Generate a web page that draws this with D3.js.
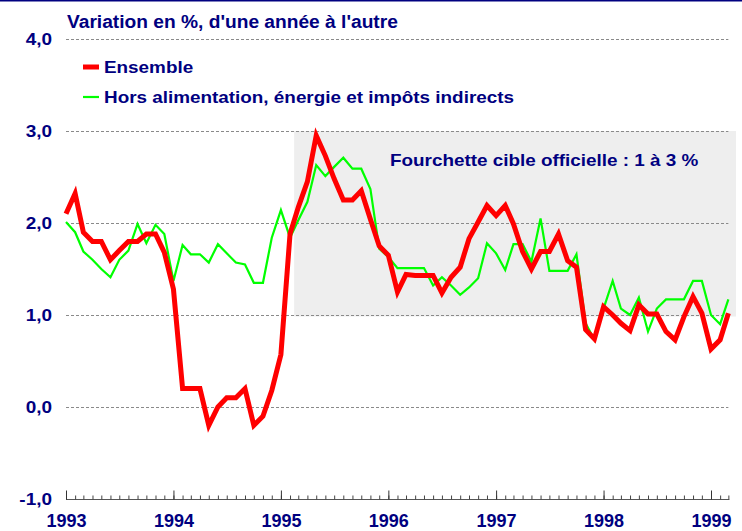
<!DOCTYPE html>
<html>
<head>
<meta charset="utf-8">
<script src="https://cdn.jsdelivr.net/npm/d3@7"></script>
<style>
  html, body { margin: 0; padding: 0; background: #ffffff; }
  svg { display: block; font-family: "Liberation Sans", Arial, sans-serif; }
</style>
</head>
<body>
<svg id="chart" width="742" height="531"></svg>
<script>
// ---- Data (monthly, Jan 1993 – Mar 1999) ----
const startMonth = "1993-01";
const endMonth = "1999-03";
const ensemble = [
  2.10, 2.32, 1.90, 1.80, 1.80, 1.60, 1.70, 1.80, 1.80, 1.88, 1.88, 1.68,
  1.28, 0.20, 0.20, 0.20, -0.20, 0.00, 0.10, 0.10, 0.20, -0.20, -0.10, 0.18,
  0.57, 1.88, 2.17, 2.45, 2.95, 2.73, 2.48, 2.25, 2.25, 2.35, 2.04, 1.75,
  1.65, 1.25, 1.44, 1.43, 1.43, 1.43, 1.24, 1.41, 1.52, 1.83, 2.01, 2.19,
  2.08, 2.19, 1.99, 1.69, 1.50, 1.69, 1.69, 1.88, 1.59, 1.52, 0.84, 0.74,
  1.09, 1.00, 0.91, 0.83, 1.11, 1.01, 1.01, 0.82, 0.73, 0.98, 1.20, 1.02,
  0.63, 0.73, 1.02
];
const horsAlim = [
  2.01, 1.90, 1.69, 1.60, 1.50, 1.41, 1.60, 1.70, 1.99, 1.78, 1.98, 1.88,
  1.37, 1.76, 1.66, 1.66, 1.57, 1.77, 1.67, 1.57, 1.55, 1.35, 1.35, 1.84,
  2.14, 1.84, 2.03, 2.23, 2.63, 2.51, 2.61, 2.71, 2.59, 2.59, 2.37, 1.72,
  1.63, 1.51, 1.51, 1.51, 1.51, 1.32, 1.41, 1.32, 1.22, 1.30, 1.40, 1.78,
  1.67, 1.49, 1.77, 1.77, 1.58, 2.05, 1.48, 1.48, 1.48, 1.66, 0.91, 0.73,
  1.07, 1.37, 1.07, 1.00, 1.19, 0.82, 1.07, 1.17, 1.17, 1.17, 1.37, 1.37,
  1.00, 0.90, 1.17
];
const yTicks = [-1, 0, 1, 2, 3, 4];
const gridValues = [0, 1, 2, 3, 4];
const yearLabels = ["1993", "1994", "1995", "1996", "1997", "1998", "1999"];
const targetBand = [1, 3];
const seriesNames = ["Ensemble", "Hors alimentation, énergie et impôts indirects"];
const titleText = "Variation en %, d'une année à l'autre";
const bandText = "Fourchette cible officielle : 1 à 3 %";

// ---- Setup ----
const NAVY = "#000080";
const svg = d3.select("#chart");
const parseM = d3.timeParse("%Y-%m");
const months = d3.timeMonth.range(parseM(startMonth), d3.timeMonth.offset(parseM(endMonth), 1));

const x = d3.scaleTime()
  .domain([new Date(1993, 0, 1), new Date(1999, 0, 1)])
  .range([66, 711]);
const y = d3.scaleLinear().domain([-1, 4]).range([499, 39]);

const plotRight = x(months[months.length - 1]);

// stretch helper: widen glyphs horizontally like the original rendering
function stretch(sel, factor) {
  sel.each(function () {
    const w = this.getComputedTextLength();
    d3.select(this).attr("textLength", w * factor).attr("lengthAdjust", "spacingAndGlyphs");
  });
}

// top border
svg.append("rect").attr("x", 0).attr("y", 0).attr("width", 742).attr("height", 1.5).attr("fill", NAVY);

// shaded target band
const bandStart = x(d3.timeDay.offset(months[25], 14));
svg.append("rect")
  .attr("x", bandStart)
  .attr("y", y(targetBand[1]))
  .attr("width", 736 - bandStart)
  .attr("height", y(targetBand[0]) - y(targetBand[1]) + 1.5)
  .attr("fill", "#eeeeee");

// gridlines
svg.append("g").selectAll("line").data(gridValues).join("line")
  .attr("x1", x(months[0])).attr("x2", plotRight)
  .attr("y1", d => Math.round(y(d)) + 0.5).attr("y2", d => Math.round(y(d)) + 0.5)
  .attr("stroke", "#8a8a8a").attr("stroke-width", 1)
  .attr("stroke-dasharray", "3,2");

// y axis labels
const yAxis = d3.axisLeft(y).tickValues(yTicks).tickSize(0).tickPadding(14)
  .tickFormat(d => d.toFixed(1).replace(".", ","));
const gy = svg.append("g").attr("transform", "translate(66,0)").call(yAxis);
gy.select(".domain").remove();
gy.selectAll("text").attr("fill", NAVY).attr("font-size", 16.5).attr("font-weight", "bold")
  .attr("font-family", "Liberation Sans, Arial, sans-serif")
  .attr("transform", "translate(-14,0) scale(1.15,1) translate(14,0)");

// x axis: baseline + ticks pointing up
const axisY = 499.5;
svg.append("line").attr("x1", x(months[0])).attr("x2", plotRight + 1)
  .attr("y1", axisY).attr("y2", axisY).attr("stroke", "#555").attr("stroke-width", 1);
const gMinor = svg.append("g").attr("transform", `translate(0,${axisY})`)
  .call(d3.axisTop(x).tickValues(months).tickSize(4).tickFormat(""));
gMinor.select(".domain").remove();
gMinor.selectAll("line").attr("stroke", "#444");
const years = yearLabels.map(s => d3.timeParse("%Y")(s));
const gMajor = svg.append("g").attr("transform", `translate(0,${axisY})`)
  .call(d3.axisTop(x).tickValues(years).tickSize(9).tickFormat(""));
gMajor.select(".domain").remove();
gMajor.selectAll("line").attr("stroke", "#333");
const gLab = svg.append("g").attr("transform", `translate(0,${axisY})`)
  .call(d3.axisBottom(x).tickValues(years).tickSize(0).tickPadding(15)
    .tickFormat((d, i) => yearLabels[i]));
gLab.select(".domain").remove();
gLab.selectAll("text").attr("fill", NAVY).attr("font-size", 18).attr("font-weight", "bold")
  .attr("font-family", "Liberation Sans, Arial, sans-serif");

// lines
const line = d3.line().x((d, i) => x(months[i])).y(d => y(d));
svg.append("path").datum(horsAlim).attr("d", line)
  .attr("fill", "none").attr("stroke", "#00ff00").attr("stroke-width", 2.2);
svg.append("path").datum(ensemble).attr("d", line)
  .attr("fill", "none").attr("stroke", "#ff0000").attr("stroke-width", 5)
  .attr("stroke-linejoin", "miter");

// title
svg.append("text").attr("x", 67).attr("y", 28).text(titleText)
  .attr("fill", NAVY).attr("font-size", 18).attr("font-weight", "bold")
  .call(stretch, 1.065);

// legend
const legend = svg.append("g");
const legColors = ["#ff0000", "#00ff00"];
const legWidths = [5, 2.2];
const legY = [67, 97];
seriesNames.forEach((name, i) => {
  legend.append("line").attr("x1", 83).attr("x2", 99).attr("y1", legY[i]).attr("y2", legY[i])
    .attr("stroke", legColors[i]).attr("stroke-width", legWidths[i]);
  legend.append("text").attr("x", 104).attr("y", legY[i] + 6).text(name)
    .attr("fill", NAVY).attr("font-size", 17).attr("font-weight", "bold")
    .call(stretch, 1.11);
});

// band annotation
svg.append("text").attr("x", 390).attr("y", 166).text(bandText)
  .attr("fill", NAVY).attr("font-size", 17).attr("font-weight", "bold")
  .call(stretch, 1.11);
</script>
</body>
</html>
